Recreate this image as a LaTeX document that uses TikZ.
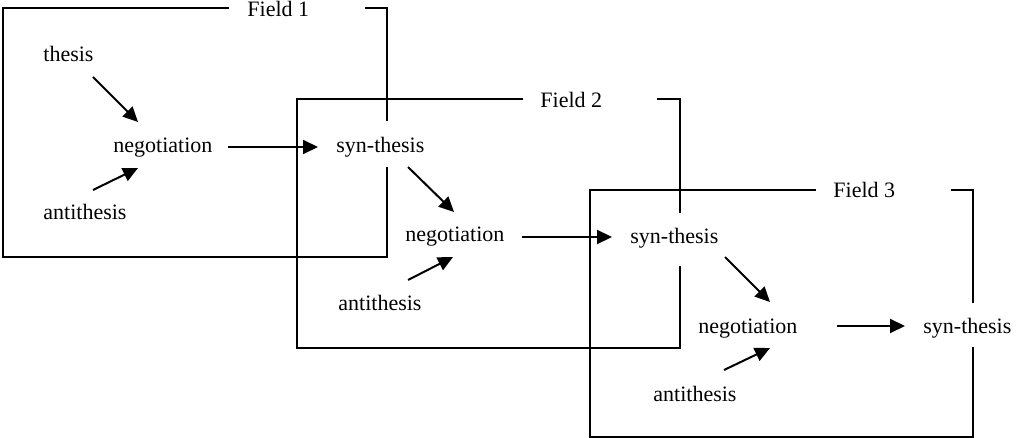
\documentclass[tikz,border=0pt]{standalone}
\usepackage{fontspec}
\setmainfont{Liberation Serif}
\usetikzlibrary{arrows.meta}
\begin{document}
\begin{tikzpicture}[x=0.5pt,y=-0.5pt,
  lbl/.style={anchor=base west,inner sep=0pt,font=\fontsize{11}{13}\selectfont},
  frame/.style={line width=1pt,line cap=rect},
  arr/.style={line width=1pt,-{Triangle[length=7.5pt,width=7pt]}}]
\useasboundingbox (0,0) rectangle (1016,438);

% text items of each field
\node[lbl] (thesis) at (43,62)  {thesis};
\node[lbl] (neg1)   at (113,153) {negotiation};
\node[lbl] (anti1)  at (43,220) {antithesis};
\node[lbl] (syn1)   at (336,153) {syn-thesis};
\node[lbl] (neg2)   at (405,242) {negotiation};
\node[lbl] (anti2)  at (338,310) {antithesis};
\node[lbl] (syn2)   at (630,243) {syn-thesis};
\node[lbl] (neg3)   at (698,333) {negotiation};
\node[lbl] (anti3)  at (653,401) {antithesis};
\node[lbl] (syn3)   at (923,333) {syn-thesis};
\node[lbl] (f1) at (247,17)  {Field 1};
\node[lbl] (f2) at (540,108) {Field 2};
\node[lbl] (f3) at (833,198) {Field 3};

% field frames, open where the title and the outgoing syn-thesis sit
\draw[frame] (228,8) -- (3,8) -- (3,257) -- (387,257) -- (387,168);
\draw[frame] (387,120) -- (387,8) -- (366,8);
\draw[frame] (522,99) -- (297,99) -- (297,348) -- (680,348) -- (680,267);
\draw[frame] (680,212) -- (680,99) -- (658,99);
\draw[frame] (815,190) -- (590,190) -- (590,437) -- (973,437) -- (973,348);
\draw[frame] (973,302) -- (973,190) -- (952,190);

% connectors
\draw[arr] ([shift={(50,15)}]thesis.base west) -- ([shift={(25,-31)}]neg1.base west);
\draw[arr] ([shift={(50,-30)}]anti1.base west) -- ([shift={(25,15)}]neg1.base west);
\draw[arr] ([shift={(115,-6)}]neg1.base west) -- ([shift={(-18,-6)}]syn1.base west);

\draw[arr] ([shift={(72,14)}]syn1.base west) -- ([shift={(49,-30)}]neg2.base west);
\draw[arr] ([shift={(70,-30)}]anti2.base west) -- ([shift={(48,15)}]neg2.base west);
\draw[arr] ([shift={(117,-5)}]neg2.base west) -- ([shift={(-18,-6)}]syn2.base west);

\draw[arr] ([shift={(95,14)}]syn2.base west) -- ([shift={(72,-31)}]neg3.base west);
\draw[arr] ([shift={(71,-31)}]anti3.base west) -- ([shift={(72,15)}]neg3.base west);
\draw[arr] ([shift={(139,-7)}]neg3.base west) -- ([shift={(-18,-7)}]syn3.base west);
\end{tikzpicture}
\end{document}
